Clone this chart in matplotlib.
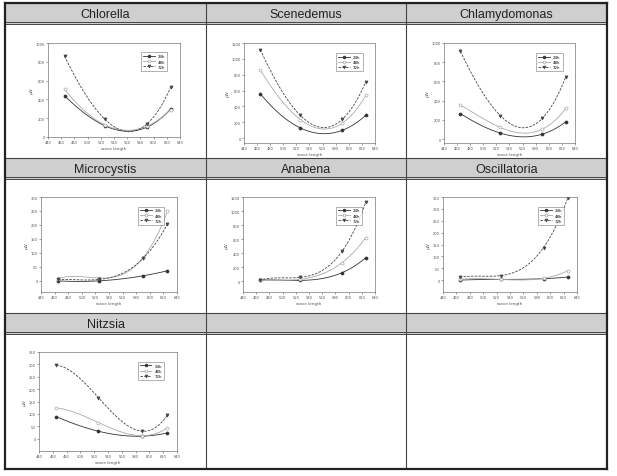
import matplotlib

matplotlib.use("Agg")
import matplotlib.pyplot as plt
import numpy as np
from matplotlib.patches import Rectangle
from matplotlib.lines import Line2D

W, H = 617, 477

# wavelength of the four light sources (nm)
wave = [465, 526, 590, 626]
hours = ["24h", "48h", "72h"]

chlorella = [[440, 120, 105, 300], [510, 130, 115, 290], [860, 190, 140, 530]]
scenedemus = [[560, 130, 100, 290], [860, 236, 190, 540], [1115, 288, 238, 710]]
chlamydomonas = [[266, 63, 52, 181], [355, 122, 104, 320], [913, 244, 216, 651]]
microcystis = [[0, 0, 18, 36], [8, 10, 82, 250], [5, 5, 80, 204]]
anabena = [[19, 15, 124, 338], [19, 30, 267, 624], [19, 57, 428, 1125]]
oscillatoria = [[0, 3, 6, 13], [3, 3, 8, 39], [12, 19, 137, 345]]
nitzsia = [[89, 30, 10, 23], [124, 65, 12, 43], [297, 166, 30, 95]]

names = ["Chlorella", "Scenedemus", "Chlamydomonas",
         "Microcystis", "Anabena", "Oscillatoria", "Nitzsia"]
series = [chlorella, scenedemus, chlamydomonas,
          microcystis, anabena, oscillatoria, nitzsia]
ylims = [(0, 1000), (-60, 1200), (-40, 1000),
         (-40, 300), (-150, 1200), (-50, 350), (-50, 350)]
yticks = [np.arange(0, 1001, 200), np.arange(0, 1201, 200), np.arange(0, 1001, 200),
          np.arange(0, 301, 50), np.arange(0, 1201, 200), np.arange(0, 351, 50),
          np.arange(0, 351, 50)]

# axes boxes in pixels: left, top, right, bottom
boxes = [(48, 44, 180, 138), (244, 44, 375, 144), (444, 44, 575, 144),
         (41, 198, 177, 293), (243, 198, 375, 293), (443, 198, 577, 293),
         (39, 353, 177, 452)]

col_x = [5, 206, 406, 607]
row_y = [4, 25, 159, 180, 314, 335, 470]

styles = [dict(color="#333333", ls="-", marker="o", mfc="#333333"),
          dict(color="#aaaaaa", ls="-", marker="o", mfc="white"),
          dict(color="#444444", ls=(0, (3, 1.5)), marker="v", mfc="#444444")]

fig = plt.figure(figsize=(W / 100, H / 100), dpi=100)


def fx(px):
    return px / W


def fy(py):
    return 1 - py / H


def hline(y, x0, x1, lw=0.8, color="#444444"):
    fig.add_artist(Line2D([fx(x0), fx(x1)], [fy(y), fy(y)], lw=lw, color=color))


def vline(x, y0, y1, lw=0.8, color="#444444"):
    fig.add_artist(Line2D([fx(x), fx(x)], [fy(y0), fy(y1)], lw=lw, color=color))


# header cells
for r in range(3):
    top, bot = row_y[2 * r], row_y[2 * r + 1]
    fig.add_artist(Rectangle((fx(col_x[0]), fy(bot)), fx(col_x[3]) - fx(col_x[0]),
                             fy(top) - fy(bot), facecolor="#cfcfcf", edgecolor="none"))
    hline(top, col_x[0], col_x[3])
    hline(bot - 2, col_x[0], col_x[3], lw=0.7)
    hline(bot, col_x[0], col_x[3], lw=0.7)
    for c in range(3):
        k = r * 3 + c
        if k < len(names):
            fig.text(fx((col_x[c] + col_x[c + 1]) / 2), fy((top + bot) / 2 + 0.5), names[k],
                     ha="center", va="center", fontsize=9, color="#222222",
                     family="Liberation Sans")

for x in col_x[1:3]:
    vline(x, row_y[0], row_y[-1])
vline(col_x[0], row_y[0], row_y[-1], lw=1.6, color="#222222")
vline(col_x[3], row_y[0], row_y[-1], lw=1.6, color="#222222")
hline(row_y[0], col_x[0], col_x[3], lw=1.6, color="#222222")
hline(row_y[-1], col_x[0], col_x[3], lw=1.6, color="#222222")

xs = np.linspace(wave[0], wave[-1], 100)
for name, data, box, yl, yt in zip(names, series, boxes, ylims, yticks):
    l, t, r, b = box
    ax = fig.add_axes([fx(l), fy(b), fx(r) - fx(l), fy(t) - fy(b)])
    for vals, lab, st in zip(data, hours, styles):
        coef = np.polyfit(wave, vals, 3)
        ax.plot(xs, np.polyval(coef, xs), color=st["color"], ls=st["ls"], lw=0.6)
        ax.plot(wave, vals, ls="none", marker=st["marker"], ms=2.2,
                mfc=st["mfc"], mec=st["color"], mew=0.5)
    ax.set_xlim(440, 640)
    ax.set_ylim(*yl)
    ax.set_xticks(np.arange(440, 641, 20))
    ax.set_yticks(yt)
    ax.tick_params(labelsize=2.6, length=1.2, width=0.4, pad=1, colors="#555555")
    for s in ax.spines.values():
        s.set_linewidth(0.5)
        s.set_color("#777777")
    ax.set_xlabel("wave length", fontsize=3, labelpad=1.5, color="#555555")
    ax.set_ylabel("μW", fontsize=3, labelpad=1.5, color="#555555")
    handles = [Line2D([], [], color=st["color"], ls=st["ls"], lw=0.6, marker=st["marker"],
                      ms=2, mfc=st["mfc"], mec=st["color"], mew=0.5) for st in styles]
    leg = ax.legend(handles, hours, loc="upper right", fontsize=2.8, frameon=True,
                    fancybox=False, borderpad=0.5, handlelength=3, labelspacing=0.3,
                    bbox_to_anchor=(0.92, 0.92))
    leg.get_frame().set_linewidth(0.4)
    leg.get_frame().set_edgecolor("#555555")

fig.savefig("out.png", dpi=100)
